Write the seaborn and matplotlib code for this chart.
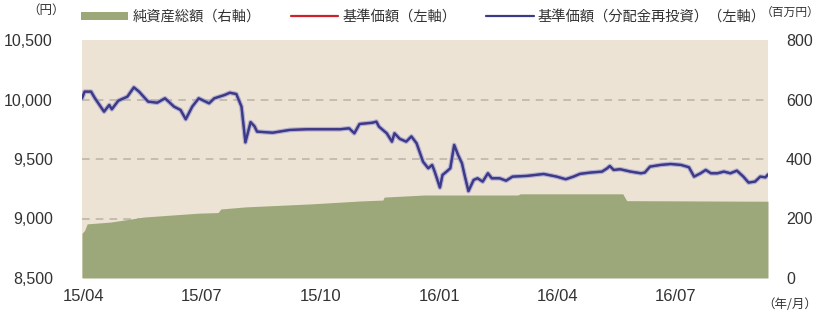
import matplotlib
matplotlib.use("Agg")
import matplotlib.pyplot as plt
from matplotlib.patches import Patch
from matplotlib.lines import Line2D
import seaborn as sns
import pandas as pd

# ---- data ----
nav_dates = [
    "2015-03-31", "2015-04-02", "2015-04-07", "2015-04-10", "2015-04-17", "2015-04-21",
    "2015-04-23", "2015-04-28", "2015-05-05", "2015-05-10", "2015-05-14", "2015-05-21",
    "2015-05-28", "2015-06-03", "2015-06-10", "2015-06-15", "2015-06-19", "2015-06-24",
    "2015-06-29", "2015-07-07", "2015-07-11", "2015-07-19", "2015-07-23", "2015-07-28",
    "2015-08-01", "2015-08-04", "2015-08-08", "2015-08-11", "2015-08-13", "2015-08-25",
    "2015-09-07", "2015-09-20", "2015-10-16", "2015-10-23", "2015-10-27", "2015-10-31",
    "2015-11-10", "2015-11-13", "2015-11-15", "2015-11-21", "2015-11-25", "2015-11-27",
    "2015-12-01", "2015-12-06", "2015-12-10", "2015-12-14", "2015-12-19", "2015-12-23",
    "2015-12-26", "2015-12-28", "2016-01-01", "2016-01-03", "2016-01-06", "2016-01-09",
    "2016-01-12", "2016-01-15", "2016-01-18", "2016-01-20", "2016-01-23", "2016-01-27",
    "2016-01-30", "2016-02-03", "2016-02-07", "2016-02-10", "2016-02-16", "2016-02-21",
    "2016-02-26", "2016-03-08", "2016-03-21", "2016-03-31", "2016-04-07", "2016-04-13",
    "2016-04-18", "2016-04-26", "2016-05-05", "2016-05-09", "2016-05-11", "2016-05-14",
    "2016-05-19", "2016-05-27", "2016-06-04", "2016-06-07", "2016-06-11", "2016-06-19",
    "2016-06-27", "2016-07-05", "2016-07-11", "2016-07-15", "2016-07-20", "2016-07-24",
    "2016-07-28", "2016-08-02", "2016-08-07", "2016-08-12", "2016-08-17", "2016-08-22",
    "2016-08-26", "2016-08-31", "2016-09-04", "2016-09-08", "2016-09-10",
]
nav_values = [
    10010, 10066, 10066, 10010, 9898, 9954,
    9918, 9990, 10024, 10102, 10066, 9982,
    9973, 10010, 9940, 9912, 9834, 9940,
    10010, 9968, 10010, 10038, 10057, 10046,
    9940, 9640, 9810, 9775, 9730, 9721,
    9744, 9750, 9750, 9758, 9716, 9794,
    9805, 9814, 9772, 9716, 9646, 9716,
    9670, 9646, 9690, 9632, 9477, 9422,
    9450, 9393, 9260, 9366, 9393, 9422,
    9618, 9534, 9464, 9366, 9230, 9324,
    9338, 9310, 9380, 9338, 9338, 9318,
    9352, 9358, 9374, 9352, 9330, 9352,
    9375, 9386, 9394, 9422, 9441, 9408,
    9414, 9394, 9380, 9386, 9436, 9450,
    9458, 9450, 9431, 9352, 9380, 9408,
    9380, 9380, 9394, 9380, 9402, 9352,
    9302, 9310, 9352, 9346, 9370,
]
nav_reinvested = list(nav_values)  # no distributions: identical series

assets_dates = [
    "2015-03-31", "2015-04-02", "2015-04-04", "2015-04-22", "2015-05-18", "2015-06-29",
    "2015-07-14", "2015-07-16", "2015-08-04", "2015-09-23", "2015-11-01", "2015-11-18",
    "2015-11-19", "2015-12-20", "2016-01-24", "2016-03-01", "2016-03-03", "2016-05-21",
    "2016-05-24", "2016-09-10",
]
assets_values = [
    150, 160, 182, 188, 205, 218,
    220, 232, 239, 249, 259, 262,
    272, 279, 279, 279, 283, 283,
    260, 258,
]

xtick_dates = ["2015-04-01", "2015-07-01", "2015-10-01", "2016-01-01", "2016-04-01", "2016-07-01"]
xtick_labels = ["15/04", "15/07", "15/10", "16/01", "16/04", "16/07"]
left_ticks = [8500, 9000, 9500, 10000, 10500]
right_ticks = [0, 200, 400, 600, 800]

legend_labels = ["純資産総額（右軸）", "基準価額（左軸）", "基準価額（分配金再投資）（左軸）"]

# ---- styling ----
BG = "#EDE3D4"
GREEN = "#9DA87A"
RED = "#D0202A"
BLUE = "#3A3A88"
HALO = "#9A9AD0"
GRID = "#B9B2A6"
TXT = "#333333"
NUMFONT = ["Liberation Sans", "Noto Sans CJK JP"]
JPFONT = ["Noto Sans CJK JP", "DejaVu Sans"]

sns.set_theme(style="white")
plt.rcParams["font.family"] = JPFONT

nav_df = pd.DataFrame({"date": pd.to_datetime(nav_dates),
                       "nav": nav_values, "nav_re": nav_reinvested})
as_df = pd.DataFrame({"date": pd.to_datetime(assets_dates), "assets": assets_values})

fig = plt.figure(figsize=(8.21, 3.18), dpi=100)
fig.patch.set_facecolor("white")
ax = fig.add_axes([82 / 821, 40 / 318, (768 - 82) / 821, (278 - 40) / 318])
ax2 = ax.twinx()

# right axis: background, grid, area
ax.set_zorder(ax2.get_zorder() + 1)
ax.patch.set_visible(False)
ax2.patch.set_visible(True)
ax2.patch.set_facecolor(BG)
ax2.fill_between(as_df["date"], as_df["assets"], 0,
                 color=GREEN, linewidth=0, zorder=2)
ax2.set_ylim(0, 800)
ax2.set_yticks(right_ticks)
ax2.set_yticklabels([f"{v:,}" for v in right_ticks], fontfamily=NUMFONT,
                    fontsize=11.5, color=TXT)
ax2.grid(False)
for v in [200, 400, 600]:
    ax2.axhline(v, color=GRID, linestyle=(0, (5, 4)), linewidth=1.1, zorder=1)

# left axis: lines
sns.lineplot(data=nav_df, x="date", y="nav", ax=ax, color=RED, linewidth=1.5, zorder=3)
sns.lineplot(data=nav_df, x="date", y="nav_re", ax=ax, color=HALO, linewidth=3.4,
             alpha=0.7, zorder=4)
sns.lineplot(data=nav_df, x="date", y="nav_re", ax=ax, color=BLUE, linewidth=1.7, zorder=5)
ax.set_ylim(8500, 10500)
ax.set_yticks(left_ticks)
ax.set_yticklabels([f"{v:,}" for v in left_ticks], fontfamily=NUMFONT,
                   fontsize=11.5, color=TXT)
ax.set_xlim(pd.Timestamp("2015-03-31"), pd.Timestamp("2016-09-10"))
ax.set_xticks(pd.to_datetime(xtick_dates))
ax.set_xticklabels(xtick_labels, fontfamily=NUMFONT, fontsize=12, color=TXT)
ax.set_xlabel("")
ax.set_ylabel("")
ax.grid(False)

for a in (ax, ax2):
    for s in a.spines.values():
        s.set_visible(False)
    a.tick_params(length=0)
ax.tick_params(axis="y", pad=21)
ax.tick_params(axis="x", pad=8)
ax2.tick_params(axis="y", pad=13)
for lab in ax2.get_yticklabels():
    lab.set_horizontalalignment("left")

# unit labels
fig.text(46 / 821, 1 - 10 / 318, "（円）", fontsize=9, color=TXT, ha="center", va="center")
fig.text(819 / 821, 1 - 12 / 318, "（百万円）", fontsize=8.5, color=TXT, ha="right", va="center")
fig.text(790 / 821, 1 - 304 / 318, "（年/月）", fontsize=9, color=TXT, ha="center", va="center")

handles = [
    Patch(facecolor=GREEN, edgecolor="none"),
    Line2D([], [], color=RED, linewidth=1.6),
    Line2D([], [], color=BLUE, linewidth=1.6),
]
fig.legend(handles, legend_labels, loc="center left", bbox_to_anchor=(81 / 821, 1 - 17 / 318),
           ncol=3, frameon=False, fontsize=10.3, handlelength=3.3, handleheight=0.55,
           handletextpad=0.3, columnspacing=2.1, borderaxespad=0, borderpad=0,
           labelcolor=TXT)

fig.savefig("out.png", dpi=100, facecolor="white")
